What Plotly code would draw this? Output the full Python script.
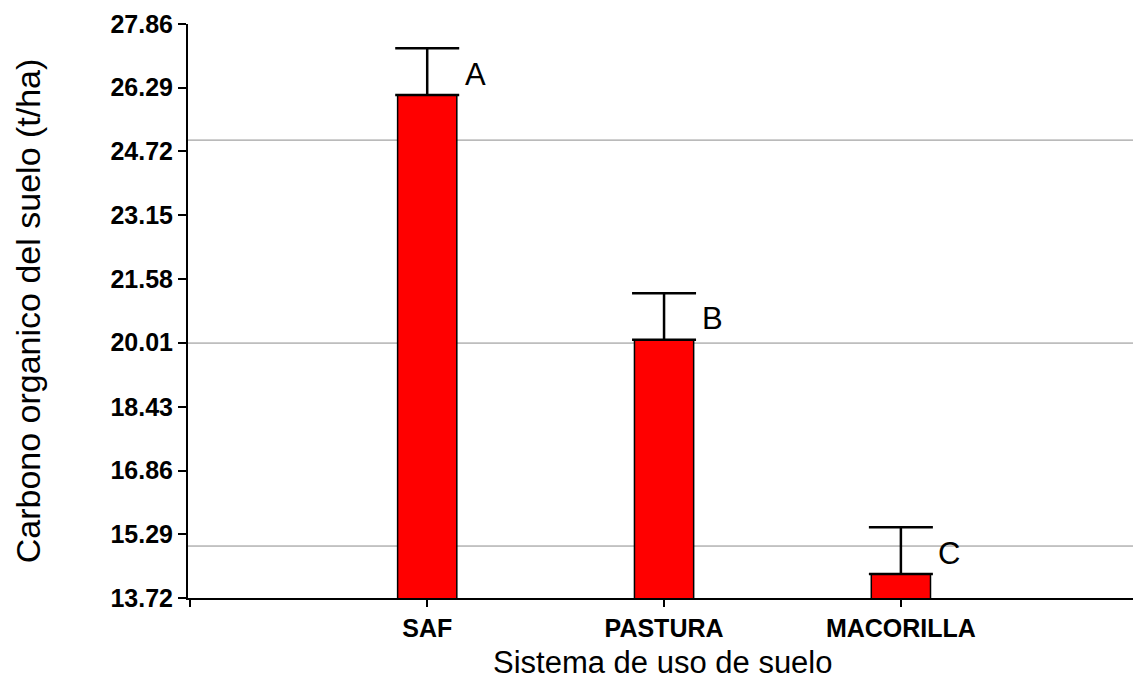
import plotly.graph_objects as go

categories = ["SAF", "PASTURA", "MACORILLA"]
means = [26.11, 20.08, 14.31]
errors = [1.15, 1.15, 1.15]
letters = ["A", "B", "C"]
ytick_values = [13.72, 15.29, 16.86, 18.43, 20.01, 21.58, 23.15, 24.72, 26.29, 27.86]
ytick_labels = ["13.72", "15.29", "16.86", "18.43", "20.01", "21.58", "23.15", "24.72", "26.29", "27.86"]
grid_values = [15, 20, 25]

FONT = "Liberation Sans, Arial, sans-serif"
positions = [i + 1 for i in range(len(categories))]

fig = go.Figure()
fig.add_trace(go.Bar(
    x=positions, y=means, width=0.25,
    marker=dict(color="#FF0000", line=dict(color="black", width=1.5)),
    error_y=dict(type="data", symmetric=False, array=errors,
                 arrayminus=[0] * len(errors), color="black",
                 thickness=2.5, width=32),
    showlegend=False,
))

for g in grid_values:
    fig.add_shape(type="line", xref="paper", x0=0, x1=1, yref="y", y0=g, y1=g,
                  line=dict(color="#8c8c8c", width=1), layer="below")

for p, m, l in zip(positions, means, letters):
    fig.add_annotation(x=p, y=m, text=l, showarrow=False, xshift=48, yshift=21,
                       font=dict(family=FONT, size=31, color="black"))

fig.add_annotation(xref="paper", yref="paper", x=-0.169, y=0.5,
                   text="Carbono organico del suelo (t/ha)", textangle=-90,
                   showarrow=False, xanchor="center", yanchor="middle",
                   font=dict(family=FONT, size=34, color="black"))
fig.add_annotation(xref="paper", yref="paper", x=0.503, y=-0.1115,
                   text="Sistema de uso de suelo",
                   showarrow=False, xanchor="center", yanchor="middle",
                   font=dict(family=FONT, size=31, color="black"))

fig.update_xaxes(range=[-0.01, 3.98], tickvals=[0] + positions,
                 ticktext=[""] + categories, ticks="outside", ticklen=7,
                 tickwidth=2, tickcolor="black", showline=True,
                 linecolor="black", linewidth=2, showgrid=False, zeroline=False,
                 tickfont=dict(family=FONT, size=25, color="black", weight="bold"))
fig.update_yaxes(range=[13.72, 27.86], tickvals=ytick_values, ticktext=ytick_labels,
                 ticks="outside", ticklen=8, tickwidth=2, tickcolor="black",
                 showline=True, linecolor="black", linewidth=2, showgrid=False,
                 zeroline=False,
                 tickfont=dict(family=FONT, size=25, color="black", weight="bold"))

fig.update_layout(
    width=1133, height=680, autosize=False,
    margin=dict(l=188, r=0, t=24, b=82),
    plot_bgcolor="white", paper_bgcolor="white",
)

fig.write_html("out.html")
